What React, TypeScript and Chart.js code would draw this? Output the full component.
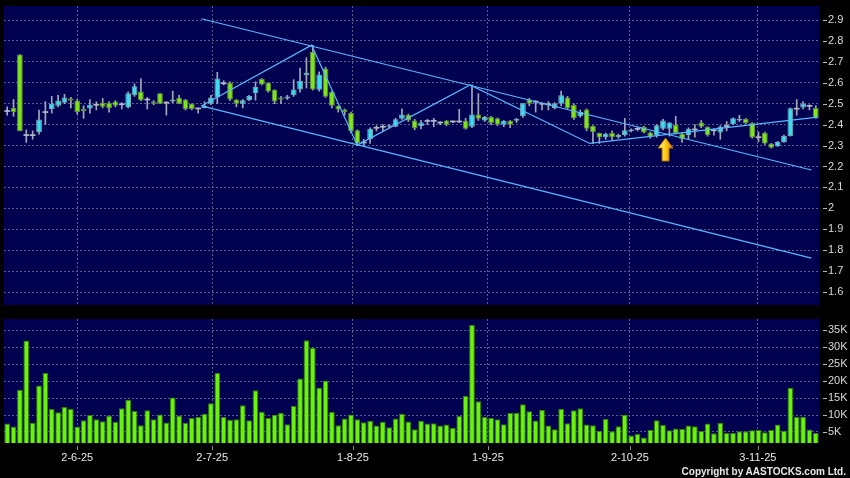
import React, { useEffect, useRef } from 'react';
import { Chart, registerables } from 'chart.js';

Chart.register(...registerables);

// ---------- data ----------
const opens = [
  2.465, 2.48, 2.735, 2.35, 2.35, 2.365, 2.46, 2.475, 2.49, 2.505,
  2.525, 2.515, 2.475, 2.477, 2.495, 2.505, 2.505, 2.51, 2.5, 2.482,
  2.54, 2.558, 2.52, 2.51, 2.55, 2.505, 2.51, 2.528, 2.52, 2.5,
  2.48, 2.48, 2.5, 2.53, 2.6, 2.6, 2.52, 2.5, 2.518, 2.55,
  2.618, 2.6, 2.567, 2.53, 2.525, 2.54, 2.568, 2.636, 2.748, 2.567,
  2.668, 2.557, 2.49, 2.472, 2.456, 2.373, 2.315, 2.33, 2.385, 2.39,
  2.39, 2.39, 2.428, 2.447, 2.42, 2.393, 2.415, 2.418, 2.41, 2.42,
  2.415, 2.415, 2.418, 2.39, 2.448, 2.42, 2.437, 2.43, 2.4, 2.418,
  2.418, 2.44, 2.52, 2.51, 2.5, 2.5, 2.48, 2.5, 2.53, 2.494,
  2.44, 2.472, 2.393, 2.36, 2.34, 2.36, 2.34, 2.35, 2.37, 2.38,
  2.39, 2.362, 2.35, 2.38, 2.38, 2.4, 2.357, 2.35, 2.377, 2.41,
  2.39, 2.373, 2.362, 2.393, 2.402, 2.42, 2.427, 2.408, 2.34, 2.36,
  2.31, 2.297, 2.317, 2.346, 2.475, 2.482, 2.49, 2.48,
];
const highs = [
  2.485, 2.52, 2.735, 2.375, 2.37, 2.47, 2.51, 2.535, 2.54, 2.545,
  2.53, 2.52, 2.49, 2.52, 2.51, 2.525, 2.51, 2.515, 2.505, 2.557,
  2.595, 2.62, 2.53, 2.515, 2.55, 2.51, 2.56, 2.54, 2.52, 2.5,
  2.48, 2.51, 2.54, 2.65, 2.61, 2.605, 2.52, 2.52, 2.54, 2.605,
  2.62, 2.6, 2.567, 2.535, 2.54, 2.615, 2.67, 2.72, 2.78, 2.652,
  2.675, 2.56, 2.49, 2.475, 2.46, 2.375, 2.33, 2.385, 2.395, 2.4,
  2.4, 2.43, 2.475, 2.45, 2.425, 2.42, 2.425, 2.43, 2.415, 2.42,
  2.418, 2.473, 2.43, 2.59, 2.548, 2.44, 2.44, 2.432, 2.42, 2.42,
  2.43, 2.502, 2.525, 2.515, 2.505, 2.51, 2.505, 2.56, 2.535, 2.5,
  2.47, 2.475, 2.395, 2.36, 2.36, 2.37, 2.355, 2.43, 2.38, 2.39,
  2.392, 2.365, 2.4, 2.425, 2.41, 2.44, 2.36, 2.385, 2.4, 2.42,
  2.39, 2.38, 2.395, 2.415, 2.432, 2.445, 2.43, 2.41, 2.365, 2.365,
  2.31, 2.32, 2.35, 2.48, 2.52, 2.51, 2.495, 2.49,
];
const lows = [
  2.445, 2.44, 2.37, 2.315, 2.33, 2.355, 2.4, 2.455, 2.485, 2.5,
  2.48, 2.45, 2.43, 2.455, 2.47, 2.48, 2.46, 2.485, 2.475, 2.48,
  2.535, 2.515, 2.475, 2.495, 2.5, 2.445, 2.505, 2.5, 2.47, 2.47,
  2.455, 2.48, 2.495, 2.5, 2.59, 2.515, 2.485, 2.48, 2.515, 2.517,
  2.59, 2.555, 2.5, 2.5, 2.52, 2.535, 2.555, 2.575, 2.565, 2.56,
  2.53, 2.48, 2.46, 2.445, 2.36, 2.3, 2.3, 2.31, 2.37, 2.37,
  2.385, 2.39, 2.425, 2.415, 2.375, 2.38, 2.4, 2.39, 2.4, 2.395,
  2.41, 2.41, 2.378, 2.385, 2.42, 2.415, 2.4, 2.395, 2.39, 2.385,
  2.41, 2.435, 2.49, 2.46, 2.47, 2.47, 2.475, 2.49, 2.475, 2.425,
  2.435, 2.37, 2.31, 2.31, 2.33, 2.325, 2.335, 2.345, 2.365, 2.37,
  2.36, 2.335, 2.34, 2.375, 2.345, 2.355, 2.315, 2.33, 2.34, 2.385,
  2.345, 2.35, 2.33, 2.37, 2.4, 2.415, 2.405, 2.335, 2.318, 2.305,
  2.288, 2.295, 2.315, 2.345, 2.445, 2.475, 2.47, 2.43,
];
const closes = [
  2.465, 2.46, 2.37, 2.35, 2.35, 2.425, 2.46, 2.5, 2.515, 2.53,
  2.515, 2.46, 2.465, 2.495, 2.495, 2.485, 2.478, 2.49, 2.495, 2.55,
  2.583, 2.517, 2.52, 2.5, 2.5, 2.505, 2.52, 2.5, 2.473, 2.475,
  2.475, 2.49, 2.53, 2.62, 2.595, 2.52, 2.5, 2.517, 2.537, 2.58,
  2.592, 2.558, 2.51, 2.52, 2.535, 2.568, 2.61, 2.648, 2.568, 2.64,
  2.533, 2.49, 2.472, 2.46, 2.37, 2.31, 2.315, 2.38, 2.385, 2.39,
  2.397, 2.426, 2.448, 2.42, 2.383, 2.41, 2.42, 2.418, 2.41, 2.4,
  2.415, 2.415, 2.38, 2.448, 2.428, 2.437, 2.408, 2.4, 2.418, 2.4,
  2.427, 2.502, 2.5, 2.51, 2.5, 2.495, 2.5, 2.54, 2.48, 2.43,
  2.46, 2.38, 2.365, 2.338, 2.355, 2.34, 2.35, 2.373, 2.377, 2.38,
  2.362, 2.342, 2.397, 2.42, 2.41, 2.36, 2.33, 2.38, 2.377, 2.39,
  2.35, 2.373, 2.39, 2.393, 2.43, 2.427, 2.408, 2.338, 2.34, 2.31,
  2.29, 2.317, 2.346, 2.478, 2.478, 2.5, 2.49, 2.43,
];
// volume in thousands of shares
const volumesK = [
  7.5, 6.6, 17.5, 32.0, 7.7, 18.7, 22.4, 11.8, 10.8, 12.4,
  11.8, 6.6, 8.5, 10.0, 8.8, 8.2, 9.9, 8.0, 12.0, 14.5,
  11.2, 7.0, 11.4, 8.8, 10.2, 7.8, 15.2, 9.9, 7.7, 9.1,
  9.4, 10.4, 13.5, 22.5, 9.4, 8.6, 8.8, 12.9, 8.5, 17.3,
  11.0, 9.1, 10.1, 10.7, 7.3, 12.7, 20.8, 32.1, 29.9, 18.1,
  20.2, 10.9, 7.0, 9.0, 10.2, 8.8, 7.9, 8.3, 6.9, 8.0,
  6.4, 9.0, 10.4, 8.1, 5.8, 8.3, 7.5, 7.6, 6.9, 7.2,
  6.2, 9.7, 15.7, 36.6, 14.1, 9.4, 9.1, 8.8, 7.3, 10.7,
  10.7, 13.2, 11.1, 8.4, 11.5, 6.9, 5.8, 11.9, 7.6, 11.4,
  12.0, 7.2, 7.0, 5.4, 8.9, 5.2, 6.7, 10.1, 4.0, 4.4,
  3.4, 5.6, 8.5, 7.1, 5.5, 6.0, 5.9, 6.9, 6.7, 5.3,
  7.5, 4.6, 7.7, 4.7, 4.7, 5.2, 5.2, 5.5, 5.6, 4.9,
  5.6, 7.2, 5.4, 18.1, 9.4, 9.5, 5.7, 4.7,
];

const dateTickIdx = [11, 32.2, 54.3, 75.5, 97.8, 117.9];
const dateTickLabels = ['2-6-25', '2-7-25', '1-8-25', '1-9-25', '2-10-25', '3-11-25'];
const priceTicks = [1.6, 1.7, 1.8, 1.9, 2.0, 2.1, 2.2, 2.3, 2.4, 2.5, 2.6, 2.7, 2.8, 2.9];
const volumeTicksK = [5, 10, 15, 20, 25, 30, 35];

const upperChannel = [{ x: 30.5, y: 2.906 }, { x: 126.3, y: 2.183 }];
const lowerChannel = [{ x: 30.5, y: 2.49 }, { x: 126.3, y: 1.762 }];
const zigzag = [
  { x: 30.5, y: 2.489 }, { x: 47.8, y: 2.78 }, { x: 55.0, y: 2.302 },
  { x: 72.7, y: 2.59 }, { x: 91.5, y: 2.31 }, { x: 127.3, y: 2.436 },
];
const arrowMark = { x: 103.4, y: 2.336 };

// ---------- styling ----------
const NAVY = '#000050';
const GRID = '#5c5c88';
const UP = '#3ddcec';
const UP_EDGE = '#78a8b8';
const DOWN = '#80e41c';
const DOWN_EDGE = '#5f8f3a';
const FLAT = '#b4bccc';
const WICK = '#a4a8b8';
const LINE = '#58b8ff';
const FONT = { family: "'Liberation Sans', Arial, sans-serif", size: 11 };

const N = closes.length;

const bgPlugin = {
  id: 'navyBg',
  beforeDraw(chart: any) {
    const { ctx, chartArea: a } = chart;
    ctx.save();
    ctx.fillStyle = NAVY;
    ctx.fillRect(a.left, a.top, a.right - a.left, a.bottom - a.top);
    ctx.restore();
  },
};

const tickMarkPlugin = {
  id: 'tickMarks',
  afterDraw(chart: any, _args: any, opts: any) {
    const { ctx, chartArea: a } = chart;
    ctx.save();
    ctx.strokeStyle = '#b8b8b8';
    ctx.lineWidth = 1;
    const ys = chart.scales.y;
    ys.ticks.forEach((t: any) => {
      const py = Math.round(ys.getPixelForValue(t.value)) + 0.5;
      ctx.beginPath();
      ctx.moveTo(a.right + 4, py);
      ctx.lineTo(a.right + 8, py);
      ctx.stroke();
    });
    if (opts && opts.xMarks) {
      const xs = chart.scales.x;
      ctx.strokeStyle = '#8a8a8a';
      xs.ticks.forEach((t: any) => {
        const px = Math.round(xs.getPixelForValue(t.value)) + 0.5;
        ctx.beginPath();
        ctx.moveTo(px, a.bottom + 3);
        ctx.lineTo(px, a.bottom + 7);
        ctx.stroke();
      });
    }
    ctx.restore();
  },
};

const arrowPlugin = {
  id: 'arrowMark',
  afterDatasetsDraw(chart: any) {
    const { ctx } = chart;
    const x = chart.scales.x.getPixelForValue(arrowMark.x);
    const y = chart.scales.y.getPixelForValue(arrowMark.y);
    ctx.save();
    const g = ctx.createLinearGradient(x - 7, 0, x + 7, 0);
    g.addColorStop(0, '#fff7a0');
    g.addColorStop(0.45, '#ffd21c');
    g.addColorStop(1, '#e08a00');
    ctx.beginPath();
    ctx.moveTo(x, y);
    ctx.lineTo(x + 7.5, y + 10);
    ctx.lineTo(x + 3.5, y + 10);
    ctx.lineTo(x + 3.5, y + 23);
    ctx.lineTo(x - 3.5, y + 23);
    ctx.lineTo(x - 3.5, y + 10);
    ctx.lineTo(x - 7.5, y + 10);
    ctx.closePath();
    ctx.fillStyle = g;
    ctx.fill();
    ctx.strokeStyle = '#a86c00';
    ctx.lineWidth = 1;
    ctx.stroke();
    ctx.restore();
  },
};

function xScale(showLabels: boolean) {
  return {
    type: 'linear',
    min: -0.5,
    max: N - 0.5,
    offset: false,
    afterBuildTicks: (s: any) => {
      s.ticks = dateTickIdx.map((v) => ({ value: v }));
    },
    afterFit: (s: any) => {
      s.height = showLabels ? 35 : 0;
      s.paddingLeft = 0;
      s.paddingRight = 0;
      s.paddingTop = 0;
      s.paddingBottom = 0;
    },
    ticks: {
      display: showLabels,
      autoSkip: false,
      maxRotation: 0,
      padding: 8,
      color: '#e8e8e8',
      font: FONT,
      callback: (_v: any, i: number) => dateTickLabels[i],
    },
    grid: { color: GRID, drawTicks: false, lineWidth: 1, offset: false },
    border: { display: false, dash: [2, 2] },
  };
}

function yScale(min: number, max: number, ticks: number[], fmt: (v: number) => string) {
  return {
    type: 'linear',
    position: 'right',
    min,
    max,
    afterBuildTicks: (s: any) => {
      s.ticks = ticks.map((v) => ({ value: v }));
    },
    afterFit: (s: any) => {
      s.width = 31;
      s.paddingTop = 0;
      s.paddingBottom = 0;
      s.paddingLeft = 0;
      s.paddingRight = 0;
    },
    ticks: { padding: 9, color: '#d8d8d8', font: FONT, callback: (v: any) => fmt(Number(v)) },
    grid: { color: GRID, drawTicks: false, lineWidth: 1 },
    border: { display: false, dash: [2, 2] },
  };
}

export default function App() {
  const priceRef = useRef<HTMLCanvasElement>(null);
  const volRef = useRef<HTMLCanvasElement>(null);

  useEffect(() => {
    document.body.style.margin = '0';
    document.body.style.background = '#000';

    const wickData = closes.map((_, i) => ({ x: i, y: [lows[i], highs[i]] }));
    const flat = closes.map((c, i) => Math.abs(c - opens[i]) < 0.006);
    const bodyData = closes.map((c, i) => {
      if (flat[i]) {
        const m = (c + opens[i]) / 2;
        return { x: i, y: [m - 0.004, m + 0.004] };
      }
      return { x: i, y: [opens[i], c] };
    });
    const bodyFill = closes.map((c, i) => (flat[i] ? FLAT : c > opens[i] ? UP : DOWN));
    const bodyEdge = closes.map((c, i) => (flat[i] ? FLAT : c > opens[i] ? UP_EDGE : DOWN_EDGE));

    const lineDs = (data: any[]) => ({
      type: 'line',
      data,
      borderColor: LINE,
      borderWidth: 1.2,
      pointRadius: 0,
      fill: false,
      tension: 0,
      order: 0,
    });

    const priceChart = new Chart(priceRef.current as HTMLCanvasElement, {
      type: 'bar',
      data: {
        datasets: [
          {
            data: wickData,
            backgroundColor: WICK,
            barThickness: 1,
            grouped: false,
            order: 3,
          },
          {
            data: bodyData,
            backgroundColor: bodyFill,
            borderColor: bodyEdge,
            borderWidth: closes.map((_, i) => (flat[i] ? 0 : 1)),
            borderSkipped: false,
            barPercentage: 0.9,
            categoryPercentage: 1,
            grouped: false,
            order: 2,
          },
          lineDs(upperChannel),
          lineDs(lowerChannel),
          lineDs(zigzag),
        ] as any,
      },
      options: {
        responsive: false,
        animation: false,
        devicePixelRatio: 1,
        layout: { padding: { left: 4, top: 6, right: 0, bottom: 5 } },
        plugins: { legend: { display: false }, tooltip: { enabled: false } },
        scales: {
          x: xScale(false),
          y: yScale(1.538, 2.967, priceTicks, (v) => String(+v.toFixed(1))),
        } as any,
      },
      plugins: [bgPlugin, tickMarkPlugin, arrowPlugin],
    });

    const volChart = new Chart(volRef.current as HTMLCanvasElement, {
      type: 'bar',
      data: {
        datasets: [
          {
            data: volumesK.map((v, i) => ({ x: i, y: v })),
            backgroundColor: '#6af20c',
            borderColor: '#2e7f00',
            borderWidth: 1,
            barPercentage: 0.9,
            categoryPercentage: 1,
            grouped: false,
          },
        ] as any,
      },
      options: {
        responsive: false,
        animation: false,
        devicePixelRatio: 1,
        layout: { padding: { left: 4, top: 9, right: 0, bottom: 0 } },
        plugins: { legend: { display: false }, tooltip: { enabled: false }, tickMarks: { xMarks: true } } as any,
        scales: {
          x: xScale(true),
          y: yScale(1.75, 38.37, volumeTicksK, (v) => `${v}K`),
        } as any,
      },
      plugins: [bgPlugin, tickMarkPlugin],
    });

    return () => {
      priceChart.destroy();
      volChart.destroy();
    };
  }, []);

  return (
    <div
      style={{
        position: 'fixed',
        left: 0,
        top: 0,
        width: 850,
        height: 478,
        background: '#000',
        overflow: 'hidden',
      }}
    >
      <canvas ref={priceRef} width={850} height={310} style={{ position: 'absolute', left: 0, top: 0 }} />
      <canvas ref={volRef} width={850} height={168} style={{ position: 'absolute', left: 0, top: 310 }} />
      <div
        style={{
          position: 'absolute',
          right: 4,
          top: 466,
          lineHeight: '12px',
          font: "bold 10px 'Liberation Sans', Arial, sans-serif",
          color: '#e8e8e8',
          whiteSpace: 'nowrap',
        }}
      >
        Copyright by AASTOCKS.com Ltd.
      </div>
    </div>
  );
}
